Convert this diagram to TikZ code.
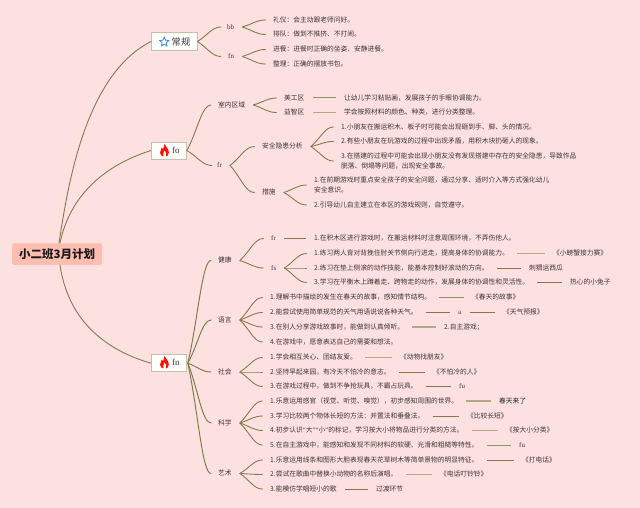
\documentclass[tikz,border=0pt]{standalone}
\usepackage{fontspec}
\setmainfont{Noto Sans CJK SC}
\newfontfamily\latf{Liberation Serif}
\usetikzlibrary{calc,shapes.geometric}
\definecolor{bgpink}{HTML}{FDE0E0}
\definecolor{rootfill}{HTML}{FDBDB0}
\definecolor{inkc}{HTML}{3C3634}
\definecolor{branchc}{HTML}{857B50}
\definecolor{lineg}{HTML}{8B9660}
\definecolor{linet}{HTML}{B5A985}
\definecolor{lined}{HTML}{7F7A4C}
\definecolor{boxline}{HTML}{C9C0A8}
\tikzset{
 tx/.style={anchor=west,inner sep=0pt,text=inkc,font=\fontsize{6.75}{8}\selectfont,text height=5.6pt,text depth=1.1pt},
 txm/.style={anchor=west,inner sep=0pt,text=inkc,font=\fontsize{6.75}{9.7}\selectfont,align=left},
 ltx/.style={tx,font=\fontsize{7}{8}\selectfont\latf},
 dark/.style={tx,text=black!85},
 topic/.style={anchor=west,inner sep=0pt,fill=white,draw=boxline,line width=0.9pt,text=inkc},
 br/.style={draw=branchc,line width=0.9pt,line cap=round},
 brg/.style={draw=lined,line width=0.95pt,line cap=round},
 lg/.style={draw=lineg,line width=1pt},
 lt/.style={draw=linet,line width=1.1pt},
 ld/.style={draw=lined,line width=0.95pt},
}
% curved connector from parent to child, leaving a gap of #4 and #5
\newcommand\Cv[5][br]{%
 \path ([xshift=#4pt]#2.east) coordinate (cvp) ([xshift=-#5pt]#3.west) coordinate (cvq);
 \draw[#1] (cvp) .. controls ($(cvp)!.45!(cvq)$) and ($(cvp|-cvq)!.62!(cvq)$) .. (cvq);}
\newcommand\Cb[3][br]{\Cv[#1]{#2}{#3}{8}{7.5}}
\newcommand\Lk[3][lg]{\draw[#1] ([xshift=8pt]#2.east) -- ([xshift=-8pt]#3.west);}
\begin{document}
\begin{tikzpicture}[x=1pt,y=-1pt]
\useasboundingbox (0,0) rectangle (640,508);
\fill[bgpink] (0,0) rectangle (640,508);

% root and main topics
\node[anchor=west,inner sep=0pt,minimum width=90pt,minimum height=21.5pt,fill=rootfill,rounded corners=2pt,font=\fontsize{11.5}{14}\selectfont\bfseries,text=black!90] (root) at (12,254) {小二班3月计划};
\node[topic,minimum width=45.5pt,minimum height=18pt] (tA) at (151,41.5) {};
\node[star,star points=5,star point ratio=2.1,draw=blue!60!cyan!80,line width=0.8pt,fill=white,inner sep=0pt,minimum size=9.5pt] (tAi) at (164.2,42) {};
\node[anchor=west,inner sep=0pt,text=inkc,font=\fontsize{9.3}{10}\selectfont] (tAt) at (171.5,41.5) {常规};
\node[topic,minimum width=35pt,minimum height=17pt] (tB) at (151,150.5) {};
\node[anchor=west,inner sep=0pt,text=inkc,font=\fontsize{9}{10}\selectfont\latf] (tBt) at (172,150) {fo};
\node[topic,minimum width=35pt,minimum height=17pt] (tC) at (151,363.2) {};
\node[anchor=west,inner sep=0pt,text=inkc,font=\fontsize{9}{10}\selectfont\latf] (tCt) at (172,362.5) {fn};
\foreach \yy in {151,363}{
 \fill[red!85!orange] (164.4,\yy-7) .. controls (165.5,\yy-4) and (169,\yy-2.5) .. (168.8,\yy+1.5)
  .. controls (168.8,\yy+4) and (167,\yy+5.5) .. (166,\yy+5.5) .. controls (167,\yy+3) and (165.5,\yy+0.5) .. (164.6,\yy-1)
  .. controls (164.2,\yy+1) and (162.5,\yy+3) .. (163.2,\yy+5.5) .. controls (161.5,\yy+5.5) and (160,\yy+3.5) .. (160,\yy+1.5)
  .. controls (160,\yy-1) and (161.5,\yy-1.5) .. (161.7,\yy-3.5) .. controls (162.8,\yy-3) and (163,\yy-2.5) .. (163.1,\yy-2) .. controls (163.6,\yy-3.5) and (164.3,\yy-5) .. (164.4,\yy-7) -- cycle;
}
\coordinate (rA) at (59,243);
\coordinate (rB) at (60,243);
\coordinate (rC) at (60,265);
\draw[br] (rA) .. controls (68,185) and (85,75) .. (tA.west);
\draw[br] (rB) .. controls (70,195) and (105,165) .. (tB.west);
\draw[br] (rC) .. controls (68,320) and (105,350) .. (tC.west);

% 常规
\node[ltx] (bb) at (227,27) {bb};
\node[ltx] (fa) at (228,56.5) {fn};
\node[tx] (a1) at (273,20) {礼仪：会主动跟老师问好。};
\node[tx] (a2) at (273,34.5) {排队：做到不推挤、不打闹。};
\node[tx] (a3) at (273,49.5) {进餐：进餐时正确的坐姿、安静进餐。};
\node[tx] (a4) at (273,64) {整理：正确的摆放书包。};
\Cv{tA}{bb}{0}{6}\Cv{tA}{fa}{0}{7}
\Cb{bb}{a1}\Cb{bb}{a2}\Cb{fa}{a3}\Cb{fa}{a4}

% fo
\node[tx] (in) at (218,105) {室内区域};
\node[ltx] (fr) at (217,165.5) {fr};
\Cv{tB}{in}{0}{7}\Cv{tB}{fr}{0}{5}
\node[tx] (b1) at (284,98) {美工区};
\node[tx] (b2) at (284,112.5) {益智区};
\node[tx] (b1x) at (344,98) {让幼儿学习粘贴画，发展孩子的手眼协调能力。};
\node[tx] (b2x) at (344,112.5) {学会按照材料的颜色、种类，进行分类整理。};
\Cb{in}{b1}\Cb{in}{b2}
\Lk[lg]{b1}{b1x}\Lk[lt]{b2}{b2x}
\node[tx] (s) at (262,146.5) {安全隐患分析};
\node[tx] (m) at (262,192.5) {措施};
\Cb{fr}{s}\Cb{fr}{m}
\node[tx] (s1) at (341,127) {1.小朋友在搬运积木、板子时可能会出现砸到手、脚、头的情况。};
\node[tx] (s2) at (341,141.5) {2.有些小朋友在玩游戏的过程中出现矛盾，用积木块扔砸人的现象。};
\node[txm] (s3) at (341,161) {3.在搭建的过程中可能会出现小朋友没有发现搭建中存在的安全隐患，导致作品\\脱落、倒塌等问题，出现安全事故。};
\Cb{s}{s1}\Cb{s}{s2}\Cb{s}{s3}
\node[txm] (m1) at (314,185) {1.在前期游戏时重点安全孩子的安全问题，通过分享、适时介入等方式强化幼儿\\安全意识。};
\node[tx] (m2) at (314,205) {2.引导幼儿自主建立在本区的游戏规则，自觉遵守。};
\Cb{m}{m1}\Cb{m}{m2}

% fn: five fields
\node[tx] (jk) at (218,260.5) {健康};
\node[tx] (yy) at (218,320) {语言};
\node[tx] (sh) at (218,372) {社会};
\node[tx] (kx) at (218,423) {科学};
\node[tx] (ys) at (218,473.5) {艺术};
\foreach \cc in {jk,yy,sh,kx,ys}{\Cv[brg]{tC}{\cc}{1}{7}}

% 健康
\node[ltx] (jfr) at (271,238.5) {fr};
\node[ltx] (jfs) at (271,268) {fs};
\Cb{jk}{jfr}\Cb{jk}{jfs}
\node[tx] (j0) at (314,238.5) {1.在积木区进行游戏时，在搬运材料时注意周围环境，不弄伤他人。};
\Lk[ld]{jfr}{j0}
\node[tx] (j1) at (314,253.5) {1.练习两人背对背挽住肘关节侧向行进走，提高身体的协调能力。};
\node[tx] (j2) at (314,268) {2.练习在垫上侧滚的动作技能，能基本控制好滚动的方向。};
\node[tx] (j3) at (314,282.5) {3.学习在平衡木上蹲着走、跨物走的动作，发展身体的协调性和灵活性。};
\Cb{jfs}{j1}\Cb{jfs}{j2}\Cb{jfs}{j3}
\node[tx] (j1x) at (553,253.5) {《小螃蟹接力赛》};
\node[tx] (j2x) at (529,268) {刺猬运西瓜};
\node[tx] (j3x) at (570,282.5) {热心的小兔子};
\Lk[lt]{j1}{j1x}\Lk[ld]{j2}{j2x}\Lk[ld]{j3}{j3x}

% 语言
\node[tx] (y1) at (270,297.5) {1.理解书中描绘的发生在春天的故事，感知情节结构。};
\node[tx] (y2) at (270,312.5) {2.能尝试使用简单规范的天气用语说说各种天气。};
\node[tx] (y3) at (270,327) {3.在别人分享游戏故事时，能做到认真倾听。};
\node[tx] (y4) at (270,342) {4.在游戏中，愿意表达自己的需要和想法。};
\foreach \cc in {y1,y2,y3,y4}{\Cb{yy}{\cc}}
\node[tx] (y1x) at (472,297.5) {《春天的故事》};
\node[ltx] (y2a) at (458,312.5) {a};
\node[tx] (y2x) at (503,312.5) {《天气预报》};
\node[tx] (y3x) at (444,327) {2.自主游戏；};
\Lk[lg]{y1}{y1x}\Lk[ld]{y2}{y2a}\Lk[ld]{y2a}{y2x}\Lk[lt]{y3}{y3x}

% 社会
\node[tx] (h1) at (270,357.5) {1.学会相互关心、团结友爱。};
\node[tx] (h2) at (270,372) {2.坚持早起来园，有冷天不怕冷的意志。};
\node[tx] (h3) at (270,386.5) {3.在游戏过程中，做到不争抢玩具，不霸占玩具。};
\foreach \cc in {h1,h2,h3}{\Cb{sh}{\cc}}
\node[tx] (h1x) at (400,357.5) {《动物找朋友》};
\node[tx] (h2x) at (433,372) {《不怕冷的人》};
\node[ltx] (h3x) at (459,386.5) {fu};
\Lk[lt]{h1}{h1x}\Lk[ld]{h2}{h2x}\Lk[ld]{h3}{h3x}

% 科学
\node[tx] (k1) at (270,401) {1.乐意运用感官（视觉、听觉、嗅觉），初步感知周围的世界。};
\node[tx] (k2) at (270,416) {3.学习比较两个物体长短的方法：并置法和垂叠法。};
\node[tx] (k3) at (270,430.5) {4.初步认识{\latf “}大{\latf ”}{\latf “}小{\latf ”}的标记，学习按大小将物品进行分类的方法。};
\node[tx] (k4) at (270,445) {5.在自主游戏中，能感知和发现不同材料的软硬、光滑和粗糙等特性。};
\foreach \cc in {k1,k2,k3,k4}{\Cb{kx}{\cc}}
\node[dark] (k1x) at (499,401) {春天来了};
\node[tx] (k2x) at (467,416) {《比较长短》};
\node[tx] (k3x) at (506,430.5) {《按大小分类》};
\node[ltx] (k4x) at (519,445) {fu};
\Lk[lt]{k1}{k1x}\Lk[ld]{k2}{k2x}\Lk[lt]{k3}{k3x}\Lk[lg]{k4}{k4x}

% 艺术
\node[tx] (r1) at (270,460) {1.乐意运用线条和图形大胆表现春天花草树木等简单景物的明显特征。};
\node[tx] (r2) at (270,474.5) {2.尝试在歌曲中替换小动物的名称后演唱。};
\node[tx] (r3) at (270,489) {3.能模仿学唱短小的歌};
\foreach \cc in {r1,r2,r3}{\Cb{ys}{\cc}}
\node[tx] (r1x) at (522,460) {《打电话》};
\node[tx] (r2x) at (440,474.5) {《电话叮铃铃》};
\node[tx] (r3x) at (376,489) {过渡环节};
\Lk[ld]{r1}{r1x}\Lk[lt]{r2}{r2x}\Lk[ld]{r3}{r3x}
\end{tikzpicture}
\end{document}
